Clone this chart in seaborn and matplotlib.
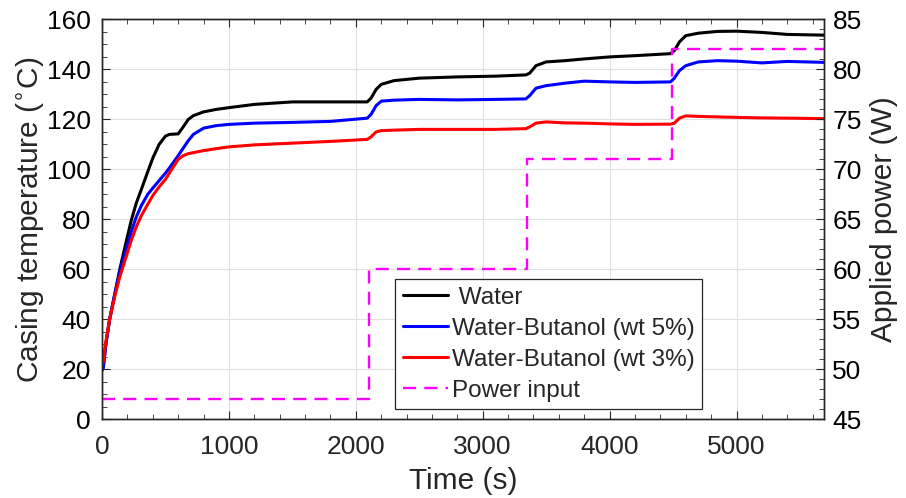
import numpy as np
import pandas as pd
import matplotlib
matplotlib.use("Agg")
import matplotlib.pyplot as plt
from matplotlib.ticker import MultipleLocator
import seaborn as sns

sns.set_style("ticks")
plt.rcParams['font.family'] = ['Liberation Sans', 'DejaVu Sans']

time_s = [0, 10, 30, 60, 100, 140, 190, 230, 270, 310, 360, 400, 450, 500, 530, 600,
          640, 680, 720, 800, 900, 1000, 1200, 1500, 1800, 2090, 2120, 2160, 2200,
          2300, 2500, 2800, 3100, 3340, 3370, 3420, 3500, 3650, 3800, 4000, 4200,
          4480, 4510, 4550, 4600, 4700, 4850, 5000, 5200, 5400, 5700]

water = [20, 21, 30, 40, 50, 60, 71, 79.5, 86.5, 92, 99, 104.5, 110, 113.3, 114, 114.2,
         117, 120, 121.5, 123, 124, 124.7, 126, 127, 127, 127, 128.5, 132, 134,
         135.5, 136.5, 137, 137.3, 137.8, 138.5, 141.5, 143, 143.5, 144.2, 145, 145.5,
         146.3, 147.5, 151, 153.5, 154.5, 155.2, 155.3, 154.8, 154, 153.7]

butanol_5 = [19.5, 20.5, 30, 40, 50, 59, 68, 75, 81, 85.5, 90, 92.5, 95.5, 98.5, 100.5, 105.5,
             108.5, 111.5, 114, 116.5, 117.5, 118, 118.5, 118.8, 119.2, 120.5, 122, 125.5, 127.3,
             127.7, 128, 127.8, 128, 128.2, 129.5, 132.5, 133.5, 134.5, 135.3, 135, 134.8,
             135, 136.5, 139.5, 141.5, 143, 143.5, 143.3, 142.6, 143.2, 142.8]

butanol_3 = [22, 23, 31, 40, 49, 57, 65, 71.5, 77, 81.5, 86, 89.5, 93, 96, 98.5, 104,
             105.5, 106.3, 106.7, 107.5, 108.3, 109, 109.8, 110.5, 111.2, 112, 113, 115, 115.5,
             115.7, 116, 116, 116, 116.3, 117, 118.5, 119, 118.6, 118.5, 118.2, 118,
             118.1, 118.5, 120.5, 121.4, 121.2, 121, 120.8, 120.6, 120.5, 120.3]

power_t = [0, 2100, 3350, 4490, 5700]
power_w = [47, 60, 71, 82, 82]

df = pd.DataFrame({'t': time_s, 'Water': water,
                   'Water-Butanol (wt 5%)': butanol_5,
                   'Water-Butanol (wt 3%)': butanol_3})
pw = pd.DataFrame({'t': power_t, 'P': power_w})

fig = plt.figure(figsize=(9.06, 4.98), dpi=100)
ax = fig.add_axes([0.1126, 0.158, 0.797, 0.803])
ax2 = ax.twinx()

ax.grid(True, color='#e0e0e0', lw=0.8)
ax.set_axisbelow(True)

sns.lineplot(data=df, x='t', y='Water', ax=ax, color='black', lw=2.2, label=' Water')
sns.lineplot(data=df, x='t', y='Water-Butanol (wt 5%)', ax=ax, color='blue', lw=2.2,
             label='Water-Butanol (wt 5%)')
sns.lineplot(data=df, x='t', y='Water-Butanol (wt 3%)', ax=ax, color='red', lw=2.2,
             label='Water-Butanol (wt 3%)')
sns.lineplot(data=pw, x='t', y='P', ax=ax2, color='magenta', lw=1.7,
             drawstyle='steps-post', linestyle=(0, (5.5, 3.5)), label='Power input')

ax.set_xlim(0, 5690)
ax.set_ylim(0, 160)
ax2.set_ylim(45, 85)
ax.xaxis.set_major_locator(MultipleLocator(1000))
ax.xaxis.set_minor_locator(MultipleLocator(200))
ax.yaxis.set_major_locator(MultipleLocator(20))
ax.yaxis.set_minor_locator(MultipleLocator(5))
ax2.yaxis.set_major_locator(MultipleLocator(5))
ax2.yaxis.set_minor_locator(MultipleLocator(1))

ax.tick_params(which='both', direction='in', top=True, right=False,
               labelsize=19, colors='#262626', pad=8)
ax.tick_params(axis='x', which='both', pad=11)
ax.tick_params(which='major', length=6)
ax.tick_params(which='minor', length=3.5)
ax.tick_params(axis='y', labelcolor='black')
ax2.tick_params(which='both', direction='in', labelsize=19, colors='#262626', pad=6)
ax2.tick_params(which='major', length=6)
ax2.tick_params(which='minor', length=3.5)
ax2.tick_params(axis='y', labelcolor='black')

for a in (ax, ax2):
    for s in a.spines.values():
        s.set_color('#262626')
        s.set_linewidth(1.0)

ax.set_xlabel('Time (s)', fontsize=21.5, color='#262626', labelpad=6)
ax.set_ylabel('Casing temperature ($^{\\circ}$C)', fontsize=21.5, labelpad=1)
ax2.set_ylabel('Applied power (W)', fontsize=21.5, labelpad=6)

h1, l1 = ax.get_legend_handles_labels()
h2, l2 = ax2.get_legend_handles_labels()
ax.get_legend().remove()
ax2.get_legend().remove()
ax2.legend(h1 + h2, l1 + l2, loc='lower left', bbox_to_anchor=(0.406, 0.025),
           borderaxespad=0, fancybox=False, framealpha=1, edgecolor='#262626',
           fontsize=17.5, handlelength=1.85, labelspacing=0.37, borderpad=0.32,
           handletextpad=0.15)
ax2.get_legend().get_frame().set_linewidth(0.9)

fig.savefig('out.png', dpi=100)
